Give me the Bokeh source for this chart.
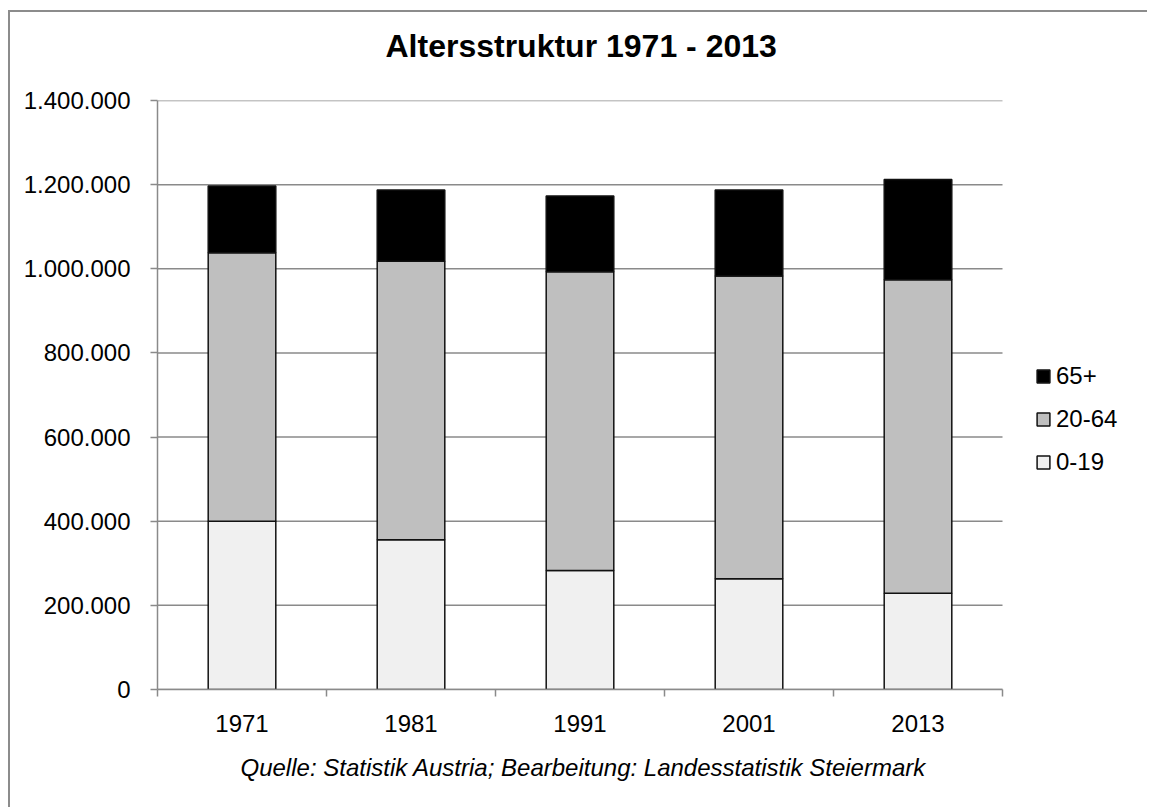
from bokeh.plotting import figure
from bokeh.models import (FixedTicker, CustomJSTickFormatter, Legend, LegendItem,
                          Title, ColumnDataSource, Range1d)
from bokeh.embed import file_html
from bokeh.resources import INLINE

years = ["1971", "1981", "1991", "2001", "2013"]
age_0_19 = [400000, 356000, 283000, 263000, 229000]
age_20_64 = [638000, 662000, 710000, 720000, 745000]
age_65 = [159000, 169000, 180000, 204000, 238000]
series = ["0-19", "20-64", "65+"]
colors = ["#f0f0f0", "#bfbfbf", "#000000"]
y_ticks = [0, 200000, 400000, 600000, 800000, 1000000, 1200000, 1400000]

FONT = "Liberation Sans"
GRID = "#8a8a8a"

n = len(years)
AXIS_W = 845          # pixel width of the category axis
FRAME_W = 980         # frame also hosts the legend on its right
x = [i + 0.5 for i in range(n)]
src = ColumnDataSource(dict(x=x, a=age_0_19, b=age_20_64, c=age_65))

p = figure(frame_width=FRAME_W, frame_height=589, output_backend="svg",
           toolbar_location=None,
           x_range=Range1d(0, n * FRAME_W / AXIS_W), y_range=Range1d(0, 1400000),
           min_border_left=147, min_border_right=10, min_border_top=88,
           min_border_bottom=118, title=None)
p.styles = {"margin-left": "8px", "margin-top": "10px",
            "border-left": "2px solid #8c8c8c", "border-top": "2px solid #8c8c8c",
            "border-right": "none", "border-bottom": "none"}
p.outline_line_color = None
p.border_fill_color = "#ffffff"

# horizontal gridlines limited to the category area
p.xgrid.grid_line_color = None
p.ygrid.grid_line_color = None
p.segment(x0=[0] * len(y_ticks), x1=[n] * len(y_ticks), y0=y_ticks, y1=y_ticks,
          line_color=GRID, line_width=1.5, level="underlay")

renderers = p.vbar_stack(["a", "b", "c"], x="x", width=0.4, source=src,
                         fill_color=colors, line_color="#111111", line_width=1.5)

# title (spacer panel first = nearest to frame, then the title text)
spacer = Title(text=" ", text_font=FONT, text_font_size="16px", standoff=18,
               align="center")
p.add_layout(spacer, "above")
title = Title(text="Altersstruktur 1971 - 2013", text_font=FONT, text_font_size="32px",
              text_font_style="bold", text_color="#000000", align="left",
              offset=228, standoff=0)
p.add_layout(title, "above")

# y axis
p.yaxis.ticker = FixedTicker(ticks=y_ticks, minor_ticks=[])
p.yaxis.major_label_overrides = {t: f"{t:,}".replace(",", ".") for t in y_ticks}
p.yaxis.major_label_text_font = FONT
p.yaxis.major_label_text_font_size = "24px"
p.yaxis.major_label_text_color = "#000000"
p.yaxis.axis_line_color = GRID
p.yaxis.axis_line_width = 1.5
p.yaxis.major_tick_line_color = GRID
p.yaxis.major_tick_line_width = 1.5
p.yaxis.major_tick_out = 7
p.yaxis.major_tick_in = 0
p.yaxis.minor_tick_line_color = None
p.yaxis.major_label_standoff = 20

# x axis
p.xaxis.bounds = (0, n)
p.xaxis.ticker = FixedTicker(ticks=x, minor_ticks=list(range(n + 1)))
p.xaxis.formatter = CustomJSTickFormatter(args=dict(labels=years),
                                          code="return labels[Math.floor(tick)];")
p.xaxis.major_label_text_font = FONT
p.xaxis.major_label_text_font_size = "24px"
p.xaxis.major_label_text_color = "#000000"
p.xaxis.axis_line_color = GRID
p.xaxis.axis_line_width = 1.5
p.xaxis.major_tick_line_color = None
p.xaxis.minor_tick_line_color = GRID
p.xaxis.minor_tick_line_width = 1.5
p.xaxis.minor_tick_out = 7
p.xaxis.minor_tick_in = 0
p.xaxis.major_label_standoff = 18

# footer
foot = Title(text="Quelle: Statistik Austria; Bearbeitung: Landesstatistik Steiermark",
             align="left", offset=83, text_font=FONT, text_font_size="24px",
             text_font_style="italic", text_color="#000000", standoff=34)
p.add_layout(foot, "below")

# legend
items = [LegendItem(label=series[i], renderers=[renderers[i]]) for i in (2, 1, 0)]
legend = Legend(items=items, location=(878, 213), label_text_font=FONT,
                label_text_font_size="24px", label_text_color="#000000",
                glyph_width=16, glyph_height=16,
                label_height=28, spacing=15, label_standoff=5, padding=0,
                margin=0, border_line_color=None, background_fill_alpha=0)
p.add_layout(legend, "center")

open("out.html", "w").write(file_html(p, INLINE))
